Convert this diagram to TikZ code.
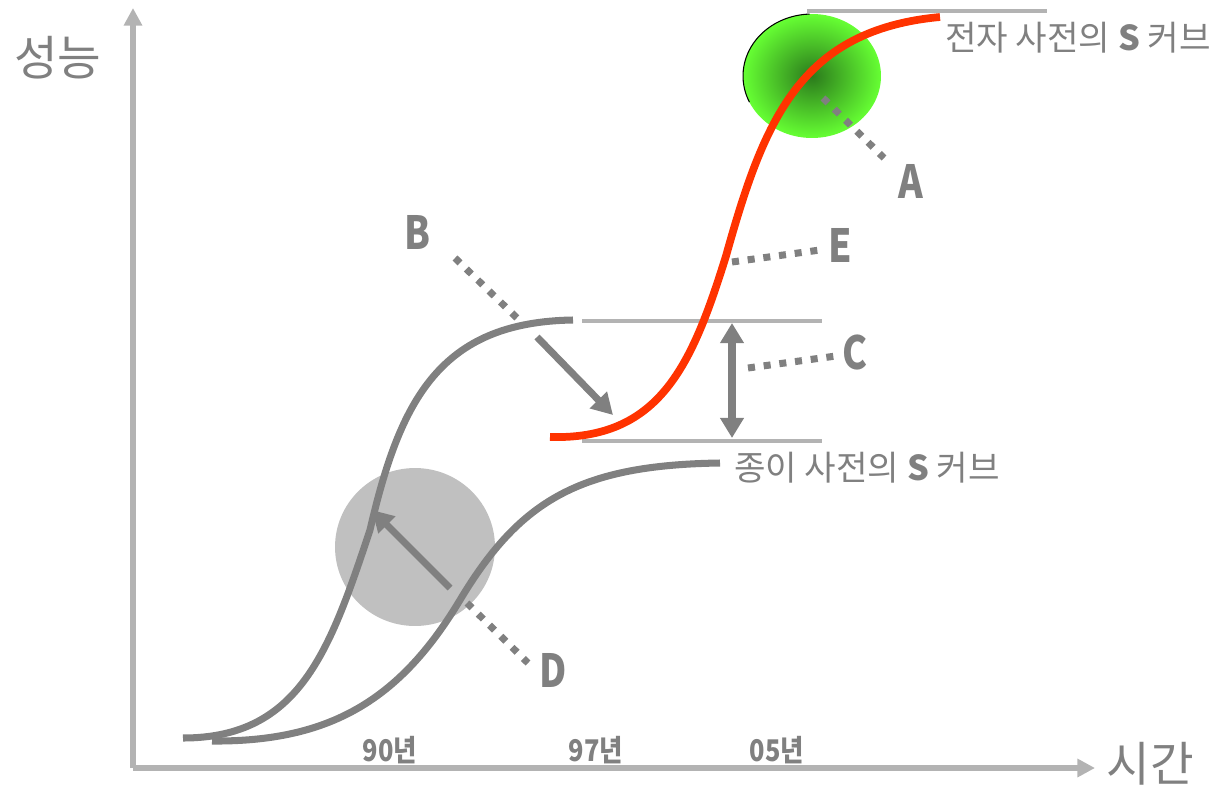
\documentclass[tikz,border=0pt]{standalone}
\usepackage{fontspec}
\setmainfont{Noto Sans CJK KR}
\usepackage{xcolor}
\usepackage{tikz}
\usetikzlibrary{arrows.meta,positioning}

\definecolor{axisgray}{HTML}{B3B3B3}
\definecolor{curvegray}{HTML}{808080}
\definecolor{curvered}{HTML}{FF3300}
\definecolor{blobgray}{HTML}{C0C0C0}
\definecolor{blobgreen}{HTML}{66FF33}
\definecolor{blobdark}{HTML}{2B7A1C}

\begin{document}
\begin{tikzpicture}[
    x=0.02cm, y=-0.02cm,
    axis/.style={draw=axisgray, line width=3.6pt, -{Triangle[length=10pt, width=10pt]}},
    scurve/.style={draw=curvegray, line width=4pt},
    ecurve/.style={draw=curvered, line width=4.4pt},
    guide/.style={draw=axisgray, line width=2.3pt},
    pointer/.style={draw=curvegray, line width=4pt, dash pattern=on 4pt off 5pt},
    bigarrow/.style={draw=curvegray, line width=4pt, -{Triangle[length=12pt, width=13pt]}},
    bothways/.style={draw=curvegray, line width=4pt, {Triangle[length=11.5pt, width=13pt]}-{Triangle[length=11.5pt, width=13pt]}},
    axislabel/.style={font=\fontsize{27}{30}\selectfont, text=curvegray, inner sep=0pt},
    yearlabel/.style={font=\bfseries\fontsize{17}{19}\selectfont, text=curvegray, inner sep=0pt, xscale=0.85, transform shape},
    curvelabel/.style={font=\fontsize{19.5}{22}\selectfont, text=curvegray, inner sep=0pt},
    tag/.style={font=\bfseries\fontsize{26}{28}\selectfont, text=curvegray, inner sep=0pt, xscale=0.82, transform shape}
]
\useasboundingbox (0,0) rectangle (1214,785);

% Axes
\coordinate (origin) at (133,768);
\coordinate (ytop) at (133,8);
\coordinate (xend) at (1095,768);
\draw[axis] (origin) -- (ytop);
\draw[axis] (origin) -- (xend);
\node[axislabel] (perf) at (58,58) {성능};
\node[axislabel] (time) at (1150,764) {시간};

% Years
\node[yearlabel] (y90) at (390,750) {90년};
\node[yearlabel] (y97) at (596,750) {97년};
\node[yearlabel] (y05) at (777,750) {05년};

% Blobs
\coordinate (gblob) at (415,547);
\fill[blobgray] (gblob) ellipse [x radius=1.6cm, y radius=1.58cm];
\coordinate (eblob) at (812,76);
\shade[inner color=blobdark, outer color=blobgreen] (eblob) ellipse [x radius=1.38cm, y radius=1.24cm];
\draw[black, line width=0.6pt] ([shift={(92:1.38cm and 1.24cm)}]eblob) arc[start angle=92, end angle=205, x radius=1.38cm, y radius=1.24cm];

% Guide lines
\coordinate (top-l) at (807,11);
\coordinate (top-r) at (1047,11);
\coordinate (hi-l) at (582,321);
\coordinate (hi-r) at (822,321);
\coordinate (lo-l) at (582,441);
\coordinate (lo-r) at (822,441);
\draw[guide] (top-l) -- (top-r);
\draw[guide] (hi-l) -- (hi-r);
\draw[guide] (lo-l) -- (lo-r);

% Paper S curves
\coordinate (p1-start) at (183,738);
\coordinate (p1-mid) at (370,530);
\coordinate (p1-end) at (573,320);
\draw[scurve] (p1-start) .. controls (300,738) and (330,650) .. (p1-mid)
    .. controls (400,400) and (440,322) .. (p1-end);
\coordinate (p2-start) at (212,741);
\coordinate (p2-mid) at (460,600);
\coordinate (p2-end) at (720,463);
\draw[scurve] (p2-start) .. controls (330,742) and (400,700) .. (p2-mid)
    .. controls (520,500) and (580,465) .. (p2-end);

% Electronic S curve
\coordinate (e-start) at (550,437);
\coordinate (e-mid) at (726,256);
\coordinate (e-end) at (940,17);
\draw[ecurve] (e-start) .. controls (660,440) and (692,365) .. (e-mid)
    .. controls (764,120) and (800,30) .. (e-end);

% Curve labels
\node[curvelabel] (elabel) at (1078,38) {전자 사전의 \textbf{S} 커브};
\node[curvelabel] (plabel) at (867,468) {종이 사전의 \textbf{S} 커브};

% Arrows
\coordinate (b-tail) at (537,337);
\coordinate (b-tip) at (613,415);
\draw[bigarrow] (b-tail) -- (b-tip);
\coordinate (d-tail) at (450,588);
\coordinate (d-tip) at (372,510);
\draw[bigarrow] (d-tail) -- (d-tip);
\coordinate (c-top) at (732,323);
\coordinate (c-bot) at (732,438);
\draw[bothways] (c-top) -- (c-bot);

% Tags
\node[tag] (tagA) at (911,181) {A};
\node[tag] (tagB) at (418,232) {B};
\node[tag] (tagC) at (855,352) {C};
\node[tag] (tagD) at (553,670) {D};
\node[tag] (tagE) at (840,245) {E};

% Dotted pointers
\coordinate (a-from) at (823,98);
\coordinate (a-to) at (884,158);
\draw[pointer] (a-from) -- (a-to);
\coordinate (b-from) at (455,258);
\coordinate (b-to) at (518,319);
\draw[pointer] (b-from) -- (b-to);
\coordinate (c-from) at (748,368);
\coordinate (c-to) at (836,356);
\draw[pointer] (c-from) -- (c-to);
\coordinate (d-from) at (467,603);
\coordinate (d-to) at (528,663);
\draw[pointer] (d-from) -- (d-to);
\coordinate (e-from) at (732,262);
\coordinate (e-to) at (820,250);
\draw[pointer] (e-from) -- (e-to);

\end{tikzpicture}
\end{document}
